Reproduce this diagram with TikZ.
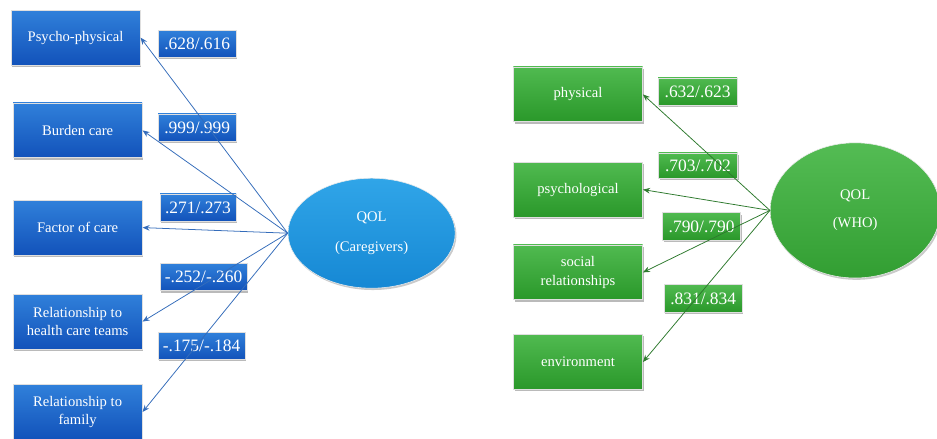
\documentclass[tikz,border=0pt]{standalone}
\usepackage{fontspec}
\setmainfont{Liberation Serif}
\usetikzlibrary{shapes, arrows.meta, positioning, shadows}

\definecolor{bluetop}{RGB}{48,128,218}
\definecolor{bluebot}{RGB}{18,82,186}
\definecolor{ovalbluetop}{RGB}{48,165,232}
\definecolor{ovalbluebot}{RGB}{22,136,212}
\definecolor{bluearrow}{RGB}{52,108,186}
\definecolor{greentop}{RGB}{80,186,80}
\definecolor{greenbot}{RGB}{42,152,42}
\definecolor{ovalgreentop}{RGB}{84,188,84}
\definecolor{ovalgreenbot}{RGB}{50,158,50}
\definecolor{greenarrow}{RGB}{46,122,46}

\begin{document}
\begin{tikzpicture}[
  box/.style={draw=white!75!gray, line width=0.5pt, minimum width=3.23cm, minimum height=1.37cm, align=center, text=white, font=\fontsize{10.4}{13}\selectfont, drop shadow={shadow xshift=0.9pt, shadow yshift=-1.3pt, opacity=0.45, fill=black!60}},
  bluebox/.style={box, top color=bluetop, bottom color=bluebot},
  greenbox/.style={box, top color=greentop, bottom color=greenbot},
  coef/.style={draw=white!75!gray, line width=0.5pt, minimum height=0.68cm, inner xsep=3pt, text=white, font=\fontsize{12.4}{14}\selectfont, drop shadow={shadow xshift=0.9pt, shadow yshift=-1.3pt, opacity=0.45, fill=black!60}},
  bluecoef/.style={coef, top color=bluetop, bottom color=bluebot},
  greencoef/.style={coef, top color=greentop, bottom color=greenbot},
  latent/.style={draw=white!85!gray, ellipse, align=center, text=white, font=\fontsize{10.4}{13}\selectfont, drop shadow={shadow xshift=0.9pt, shadow yshift=-1.3pt, opacity=0.35, fill=black!60}},
  bluelink/.style={draw=bluearrow, line width=0.55pt, -{Stealth[length=5pt, width=4pt]}},
  greenlink/.style={draw=greenarrow, line width=0.55pt, -{Stealth[length=5pt, width=4pt]}}
]
  \useasboundingbox (0, 0) rectangle (23.425, -10.975);

  % Caregivers model
  \node[bluebox] (psy) at (1.89, -0.94) {Psycho-physical};
  \node[bluebox] (burden) at (1.94, -3.26) {Burden care};
  \node[bluebox] (factor) at (1.94, -5.69) {Factor of care};
  \node[bluebox] (teams) at (1.94, -8.04) {Relationship to\\health care teams};
  \node[bluebox] (family) at (1.94, -10.3) {Relationship to\\family};

  \node[bluecoef, minimum width=1.95cm] (c1) at (4.93, -1.1) {.628/.616};
  \node[bluecoef, minimum width=1.95cm] (c2) at (4.93, -3.19) {.999/.999};
  \node[bluecoef, minimum width=1.9cm] (c3) at (4.95, -5.19) {.271/.273};
  \node[bluecoef, minimum width=2.18cm] (c4) at (5.09, -6.93) {-.252/-.260};
  \node[bluecoef, minimum width=2.18cm] (c5) at (5.04, -8.65) {-.175/-.184};

  \node[latent, minimum width=4.18cm, minimum height=2.75cm, top color=ovalbluetop, bottom color=ovalbluebot] (qolc) at (9.29, -5.83) {QOL\\[8pt](Caregivers)};

  % Loadings
  \draw[bluelink] (qolc.west) -- (psy.east);
  \draw[bluelink] (qolc.west) -- (burden.east);
  \draw[bluelink] (qolc.west) -- (factor.east);
  \draw[bluelink] (qolc.west) -- (teams.east);
  \draw[bluelink] (qolc.west) -- (family.east);

  % WHO model
  \node[greenbox] (phys) at (14.45, -2.36) {physical};
  \node[greenbox] (psych) at (14.45, -4.74) {psychological};
  \node[greenbox] (social) at (14.45, -6.81) {social\\relationships};
  \node[greenbox] (env) at (14.45, -9.05) {environment};

  \node[greencoef, minimum width=1.97cm] (g1) at (17.44, -2.29) {.632/.623};
  \node[greencoef, minimum width=1.97cm, minimum height=0.63cm] (g2) at (17.45, -4.14) {.703/.702};
  \node[greencoef, minimum width=1.94cm] (g3) at (17.54, -5.66) {.790/.790};
  \node[greencoef, minimum width=1.95cm] (g4) at (17.58, -7.46) {.831/.834};

  \node[latent, minimum width=4.25cm, minimum height=3.38cm, top color=ovalgreentop, bottom color=ovalgreenbot] (qolw) at (21.38, -5.26) {QOL\\[7pt](WHO)};

  % Loadings
  \draw[greenlink] (qolw.west) -- (phys.east);
  \draw[greenlink] (qolw.west) -- (psych.east);
  \draw[greenlink] (qolw.west) -- (social.east);
  \draw[greenlink] (qolw.west) -- (env.east);

\end{tikzpicture}
\end{document}
